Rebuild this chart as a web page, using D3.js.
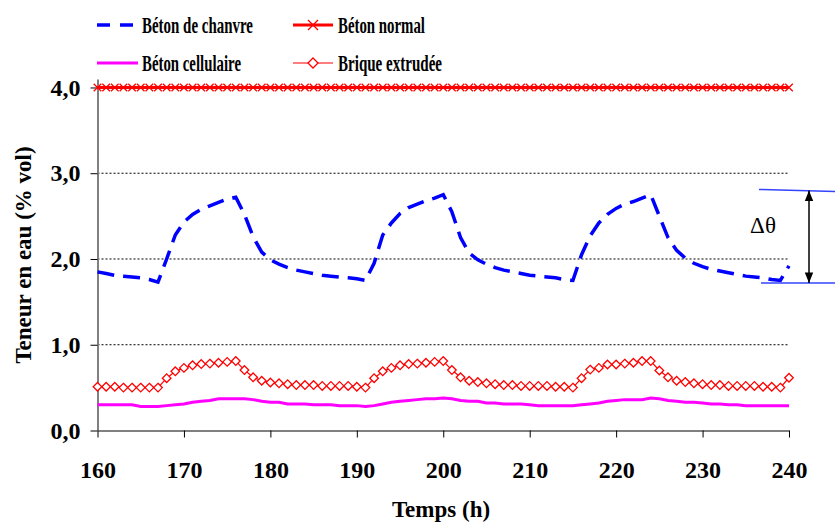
<!DOCTYPE html>
<html>
<head>
<meta charset="utf-8">
<script src="https://cdn.jsdelivr.net/npm/d3@7"></script>
<style>
  body { margin: 0; background: #fff; }
  svg { display: block; }
</style>
</head>
<body>
<div id="wrapper"></div>
<script>
// Data (heures 160..240, pas de 1 h)
const hours = d3.range(160, 241);

const betonChanvre = [
  1.85, 1.83, 1.81, 1.80, 1.79, 1.78, 1.76, 1.73,
  2.00, 2.28, 2.43, 2.52, 2.58, 2.62, 2.66, 2.70, 2.72,
  2.52, 2.26, 2.08, 1.99, 1.94, 1.90, 1.87, 1.85, 1.83, 1.81, 1.80, 1.79, 1.78, 1.77, 1.75,
  1.95, 2.28, 2.42, 2.53, 2.60, 2.64, 2.68, 2.71, 2.75,
  2.55, 2.25, 2.07, 1.99, 1.94, 1.90, 1.87, 1.85, 1.83, 1.81, 1.80, 1.79, 1.78, 1.76, 1.75,
  2.05, 2.27, 2.42, 2.52, 2.59, 2.64, 2.67, 2.71, 2.75,
  2.50, 2.25, 2.10, 2.01, 1.95, 1.91, 1.88, 1.86, 1.84, 1.82, 1.80, 1.79, 1.78, 1.76, 1.75,
  1.92
];

const betonNormal = hours.map(() => 4.0);

const betonCellulaire = [
  0.30, 0.30, 0.30, 0.30, 0.30, 0.28, 0.28, 0.28,
  0.29, 0.30, 0.31, 0.33, 0.34, 0.35, 0.37, 0.37, 0.37,
  0.37, 0.36, 0.34, 0.33, 0.33, 0.31, 0.31, 0.31, 0.30, 0.30, 0.30, 0.29, 0.29, 0.29, 0.28,
  0.29, 0.31, 0.33, 0.34, 0.35, 0.36, 0.37, 0.37, 0.38,
  0.37, 0.35, 0.34, 0.34, 0.32, 0.32, 0.31, 0.31, 0.31, 0.30, 0.29, 0.29, 0.29, 0.29, 0.29,
  0.30, 0.31, 0.32, 0.34, 0.35, 0.36, 0.36, 0.36, 0.38,
  0.37, 0.35, 0.34, 0.33, 0.33, 0.32, 0.31, 0.31, 0.30, 0.30, 0.29, 0.29, 0.29, 0.29, 0.29,
  0.29
];

const briqueExtrudee = [
  0.51, 0.51, 0.51, 0.50, 0.50, 0.50, 0.50, 0.50,
  0.61, 0.69, 0.73, 0.76, 0.775, 0.78, 0.79, 0.80, 0.81,
  0.705, 0.62, 0.58, 0.56, 0.55, 0.54, 0.53, 0.53, 0.53, 0.52, 0.52, 0.52, 0.52, 0.51, 0.50,
  0.61, 0.69, 0.73, 0.76, 0.775, 0.78, 0.79, 0.80, 0.81,
  0.705, 0.62, 0.58, 0.565, 0.55, 0.54, 0.53, 0.53, 0.52, 0.52, 0.52, 0.52, 0.51, 0.51, 0.50,
  0.61, 0.71, 0.73, 0.77, 0.77, 0.78, 0.79, 0.81, 0.81,
  0.70, 0.62, 0.58, 0.565, 0.55, 0.54, 0.53, 0.53, 0.52, 0.52, 0.52, 0.52, 0.51, 0.51, 0.50,
  0.615
];

const yTicks = [0, 1, 2, 3, 4];
const xTicks = [160, 170, 180, 190, 200, 210, 220, 230, 240];
const deltaTheta = [1.72, 2.8];

// Dimensions
const width = 835;
const height = 523;
const FONT = '"Liberation Serif"';

const svg = d3
  .select("#wrapper")
  .append("svg")
  .attr("width", width)
  .attr("height", height);

// Scales
const xScale = d3.scaleLinear().domain([160, 240]).range([97.5, 789]);
const yScale = d3.scaleLinear().domain([0, 4.1]).range([430.5, 78.9]);

// Gridlines (dotted)
svg
  .append("g")
  .selectAll("line")
  .data(yTicks.filter((d) => d > 0))
  .join("line")
  .attr("x1", xScale(160))
  .attr("x2", xScale(240))
  .attr("y1", (d) => yScale(d))
  .attr("y2", (d) => yScale(d))
  .attr("stroke", "#000")
  .attr("stroke-width", 1)
  .attr("stroke-dasharray", "2,2");

// Axes
const yAxis = svg
  .append("g")
  .attr("transform", `translate(${xScale(160)},0)`)
  .call(
    d3
      .axisLeft(yScale)
      .tickValues(yTicks)
      .tickSize(7)
      .tickSizeOuter(0)
      .tickPadding(10)
      .tickFormat((d) => d3.format(".1f")(d).replace(".", ","))
  );

const xAxis = svg
  .append("g")
  .attr("transform", `translate(0,${yScale(0)})`)
  .call(
    d3.axisBottom(xScale).tickValues(xTicks).tickSize(7).tickSizeOuter(0).tickPadding(23)
  );

[yAxis, xAxis].forEach((ax) => {
  ax.select(".domain").attr("stroke", "#808080").attr("stroke-width", 2);
  ax.selectAll(".tick line").attr("stroke", "#000").attr("stroke-width", 1);
  ax.selectAll(".tick text")
    .attr("fill", "#000")
    .style("font-family", FONT)
    .style("font-size", "24px")
    .style("font-weight", "bold");
});

// Axis titles
svg
  .append("text")
  .attr("x", 441)
  .attr("y", 517)
  .attr("text-anchor", "middle")
  .style("font-family", FONT)
  .style("font-size", "23px")
  .style("font-weight", "bold")
  .text("Temps (h)");

svg
  .append("text")
  .attr("transform", "translate(31,255) rotate(-90)")
  .attr("text-anchor", "middle")
  .style("font-family", FONT)
  .style("font-size", "23px")
  .style("font-weight", "bold")
  .text("Teneur en eau (% vol)");

// Lines
const lineGen = (values) =>
  d3
    .line()
    .x((d, i) => xScale(hours[i]))
    .y((d) => yScale(d))(values);

const plot = svg.append("g");

plot
  .append("path")
  .attr("d", lineGen(betonCellulaire))
  .attr("fill", "none")
  .attr("stroke", "#ff00ff")
  .attr("stroke-width", 3);

plot
  .append("path")
  .attr("d", lineGen(briqueExtrudee))
  .attr("fill", "none")
  .attr("stroke", "#ff0000")
  .attr("stroke-width", 1.2);

const diamond = (cx, cy, r) =>
  `M${cx},${cy - r}L${cx + r},${cy}L${cx},${cy + r}L${cx - r},${cy}Z`;

plot
  .append("g")
  .selectAll("path")
  .data(briqueExtrudee)
  .join("path")
  .attr("d", (d, i) => diamond(xScale(hours[i]), yScale(d), 4.3))
  .attr("fill", "#fff")
  .attr("stroke", "#ff0000")
  .attr("stroke-width", 1.3);

plot
  .append("path")
  .attr("d", lineGen(betonChanvre))
  .attr("fill", "none")
  .attr("stroke", "#0000ff")
  .attr("stroke-width", 3.5)
  .attr("stroke-dasharray", "17,9");

plot
  .append("path")
  .attr("d", lineGen(betonNormal))
  .attr("fill", "none")
  .attr("stroke", "#ff0000")
  .attr("stroke-width", 3);

const cross = (cx, cy, r) =>
  `M${cx - r},${cy - r}L${cx + r},${cy + r}M${cx - r},${cy + r}L${cx + r},${cy - r}`;

plot
  .append("g")
  .selectAll("path")
  .data(betonNormal)
  .join("path")
  .attr("d", (d, i) => cross(xScale(hours[i]), yScale(d), 3.8))
  .attr("stroke", "#ff0000")
  .attr("stroke-width", 1.3);

// Annotation delta theta
const ann = svg.append("g");
const defs = svg.append("defs");
defs
  .append("marker")
  .attr("id", "arrow")
  .attr("viewBox", "0 0 10 10")
  .attr("refX", 10)
  .attr("refY", 5)
  .attr("markerWidth", 7)
  .attr("markerHeight", 7)
  .attr("orient", "auto-start-reverse")
  .append("path")
  .attr("d", "M0,1L10,5L0,9Z")
  .attr("fill", "#000");

ann
  .append("line")
  .attr("x1", 759)
  .attr("x2", 835)
  .attr("y1", yScale(deltaTheta[1]) - 1)
  .attr("y2", yScale(deltaTheta[1]) + 1)
  .attr("stroke", "#3344ff")
  .attr("stroke-width", 1.5);

ann
  .append("line")
  .attr("x1", 761)
  .attr("x2", 835)
  .attr("y1", yScale(deltaTheta[0]))
  .attr("y2", yScale(deltaTheta[0]))
  .attr("stroke", "#3344ff")
  .attr("stroke-width", 1.5);

ann
  .append("line")
  .attr("x1", 809)
  .attr("x2", 809)
  .attr("y1", yScale(deltaTheta[1]))
  .attr("y2", yScale(deltaTheta[0]))
  .attr("stroke", "#000")
  .attr("stroke-width", 1.5)
  .attr("marker-start", "url(#arrow)")
  .attr("marker-end", "url(#arrow)");

ann
  .append("text")
  .attr("x", 763)
  .attr("y", 233)
  .attr("text-anchor", "middle")
  .style("font-family", FONT)
  .style("font-size", "23px")
  .text("Δθ");

// Legend
const legendItems = [
  { label: "Béton de chanvre", x: 97, y: 25, w: 111, type: "dash" },
  { label: "Béton normal", x: 293, y: 25, w: 87, type: "cross" },
  { label: "Béton cellulaire", x: 97, y: 63, w: 99, type: "magenta" },
  { label: "Brique extrudée", x: 293, y: 63, w: 104, type: "diamond" },
];

const legend = svg.append("g");

legendItems.forEach((it) => {
  const g = legend.append("g");
  if (it.type === "dash") {
    g.append("line")
      .attr("x1", it.x).attr("x2", it.x + 37)
      .attr("y1", it.y).attr("y2", it.y)
      .attr("stroke", "#0000ff").attr("stroke-width", 3.5)
      .attr("stroke-dasharray", "13,10");
  } else if (it.type === "magenta") {
    g.append("line")
      .attr("x1", it.x).attr("x2", it.x + 41)
      .attr("y1", it.y).attr("y2", it.y)
      .attr("stroke", "#ff00ff").attr("stroke-width", 3);
  } else if (it.type === "cross") {
    g.append("line")
      .attr("x1", it.x).attr("x2", it.x + 40)
      .attr("y1", it.y).attr("y2", it.y)
      .attr("stroke", "#ff0000").attr("stroke-width", 3);
    g.append("path")
      .attr("d", cross(it.x + 20, it.y, 5))
      .attr("stroke", "#ff0000").attr("stroke-width", 1.3);
  } else {
    g.append("line")
      .attr("x1", it.x).attr("x2", it.x + 40)
      .attr("y1", it.y).attr("y2", it.y)
      .attr("stroke", "#ff0000").attr("stroke-width", 1.2);
    g.append("path")
      .attr("d", diamond(it.x + 20, it.y, 5))
      .attr("fill", "#fff")
      .attr("stroke", "#ff0000").attr("stroke-width", 1.3);
  }
  g.append("text")
    .attr("x", it.x + 45)
    .attr("y", it.y + 8)
    .attr("textLength", it.w)
    .attr("lengthAdjust", "spacingAndGlyphs")
    .style("font-family", FONT)
    .style("font-size", "23px")
    .style("font-weight", "bold")
    .text(it.label);
});
</script>
</body>
</html>
